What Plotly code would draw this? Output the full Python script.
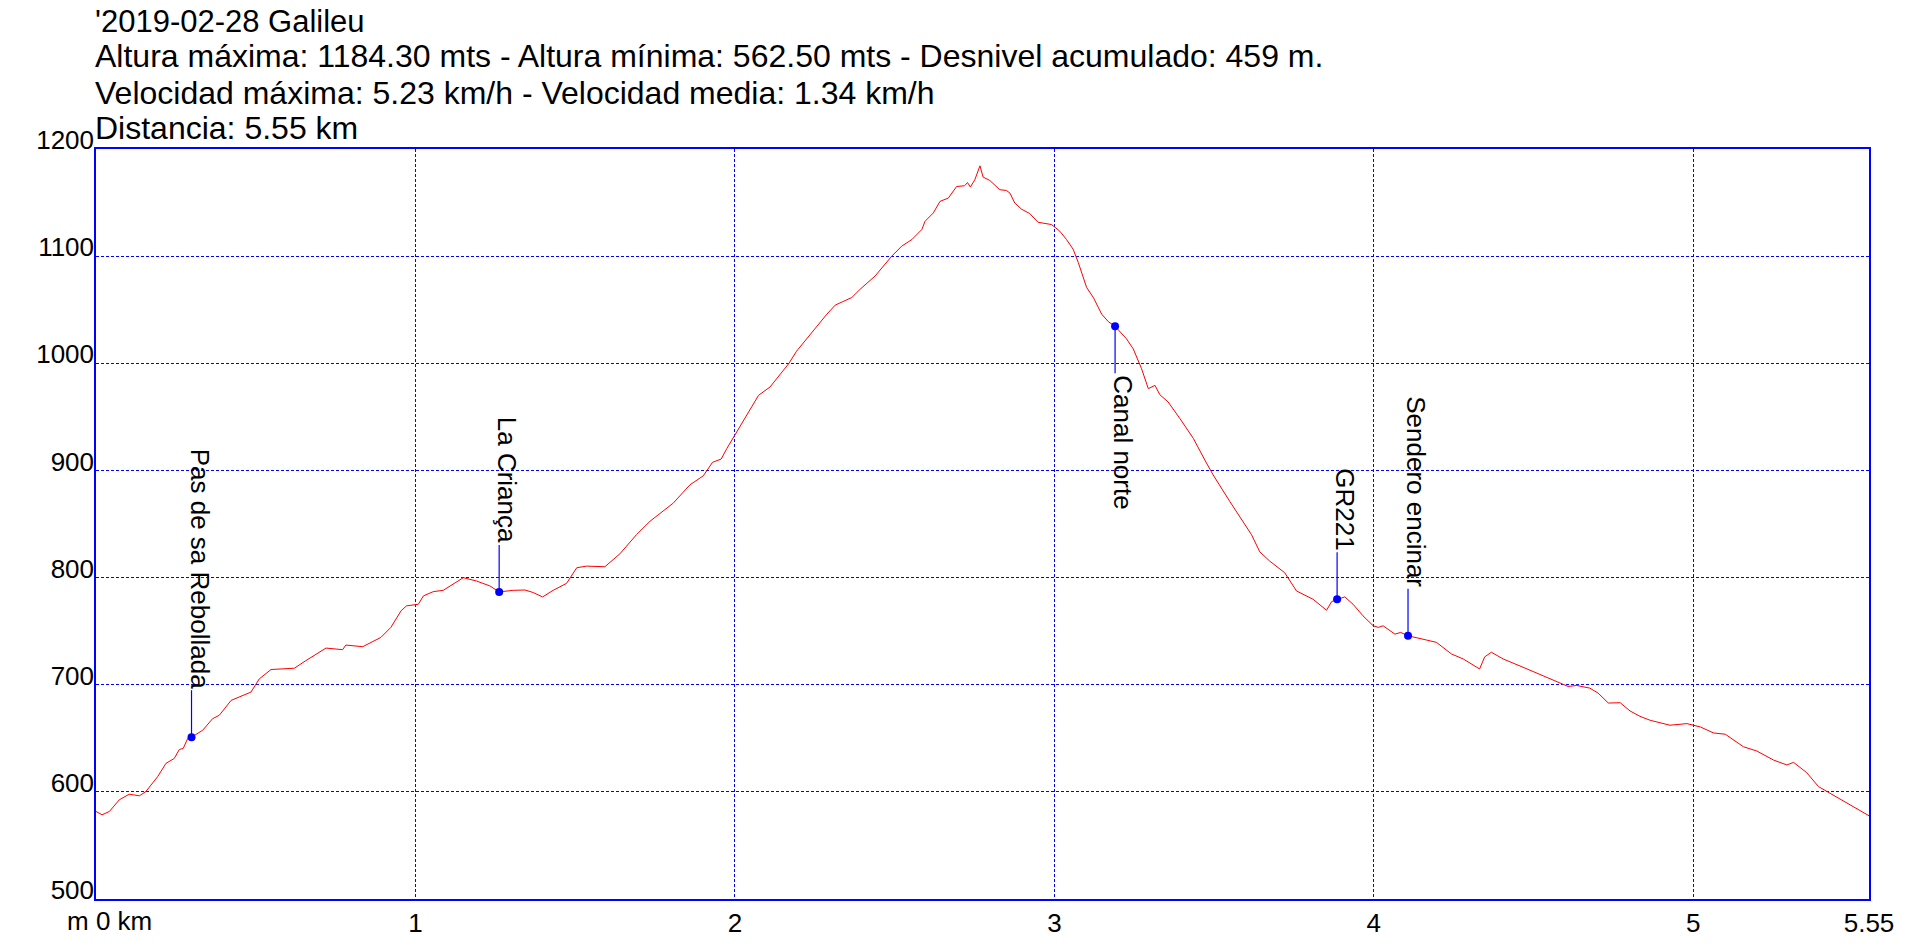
import plotly.graph_objects as go

# ---- data ----
title_lines = [
    "'2019-02-28 Galileu",
    "Altura máxima: 1184.30 mts - Altura mínima: 562.50 mts - Desnivel acumulado: 459 m.",
    "Velocidad máxima: 5.23 km/h - Velocidad media: 1.34 km/h",
    "Distancia: 5.55 km",
]

distance_km = [0, 0.019, 0.042, 0.073, 0.104, 0.136, 0.156, 0.193, 0.219, 0.245, 0.261, 0.273, 0.287, 0.299,
               0.334, 0.365, 0.386, 0.423, 0.485, 0.511, 0.548, 0.621, 0.657, 0.720, 0.772, 0.782, 0.835,
               0.892, 0.923, 0.955, 0.972, 1.009, 1.025, 1.056, 1.087, 1.118, 1.150, 1.191, 1.233, 1.262,
               1.306, 1.343, 1.369, 1.398, 1.431, 1.473, 1.505, 1.536, 1.593, 1.640, 1.692, 1.734, 1.807,
               1.859, 1.901, 1.930, 1.957, 1.975, 2.004, 2.032, 2.074, 2.110, 2.142, 2.168, 2.193, 2.241,
               2.288, 2.314, 2.366, 2.392, 2.439, 2.491, 2.522, 2.554, 2.585, 2.595, 2.621, 2.642, 2.668,
               2.694, 2.719, 2.728, 2.737, 2.751, 2.767, 2.777, 2.798, 2.829, 2.850, 2.861, 2.876, 2.897,
               2.923, 2.949, 2.991, 3.017, 3.038, 3.059, 3.075, 3.101, 3.122, 3.148, 3.169, 3.190, 3.226,
               3.247, 3.273, 3.294, 3.315, 3.330, 3.356, 3.393, 3.435, 3.471, 3.497, 3.549, 3.586, 3.617,
               3.643, 3.674, 3.721, 3.758, 3.810, 3.852, 3.868, 3.885, 3.909, 3.935, 3.966, 3.998, 4.014,
               4.029, 4.066, 4.084, 4.107, 4.165, 4.196, 4.243, 4.280, 4.331, 4.347, 4.368, 4.405, 4.467,
               4.541, 4.582, 4.608, 4.635, 4.676, 4.702, 4.734, 4.771, 4.802, 4.833, 4.865, 4.927, 4.980,
               5.022, 5.063, 5.100, 5.131, 5.157, 5.199, 5.251, 5.293, 5.314, 5.355, 5.392, 5.428, 5.481,
               5.550]

elevation_m = [581.7, 578.6, 581.7, 592.6, 597.8, 596.3, 600.3, 614.2, 626.6, 631.2, 639.6, 640.5, 649.8, 651.0,
               657.5, 668.3, 671.5, 685.4, 693.1, 705.4, 714.2, 715.4, 722.5, 734.2, 732.7, 737.0, 735.5,
               744.2, 753.5, 769.0, 773.6, 775.1, 782.9, 786.9, 788.1, 793.7, 799.9, 796.8, 792.2, 786.6,
               788.1, 788.4, 786.0, 781.9, 788.1, 794.6, 809.2, 810.7, 810.1, 822.2, 840.1, 852.5, 869.5,
               886.5, 895.0, 907.6, 910.6, 920.6, 935.0, 948.4, 970.1, 977.9, 990.2, 999.5, 1011.3, 1028.9,
               1045.9, 1054.3, 1061.4, 1069.1, 1081.5, 1100.0, 1109.3, 1115.5, 1124.8, 1132.5, 1140.3, 1151.1, 1154.2,
               1165.0, 1165.7, 1168.7, 1164.5, 1171.3, 1184.3, 1173.8, 1170.6, 1162.0, 1161.3, 1158.8, 1149.6, 1143.9,
               1139.7, 1131.6, 1129.5, 1123.3, 1115.5, 1106.3, 1093.9, 1070.7, 1061.4, 1045.9, 1038.8, 1034.5, 1022.7,
               1013.4, 994.9, 976.3, 979.4, 970.7, 963.9, 948.4, 929.9, 909.7, 895.8, 871.1, 854.0, 840.1,
               824.0, 815.4, 804.5, 787.5, 779.7, 769.5, 777.6, 779.7, 782.0, 775.1, 764.3, 755.0, 753.5,
               755.0, 747.2, 748.8, 745.7, 741.7, 739.5, 728.7, 724.0, 714.7, 726.0, 730.3, 724.0, 716.3,
               707.0, 701.5, 698.4, 699.3, 696.8, 692.2, 682.9, 683.2, 675.5, 670.5, 666.8, 662.2, 663.7,
               660.6, 655.0, 653.8, 647.6, 642.1, 638.1, 629.7, 625.1, 627.5, 617.9, 604.9, 598.7, 589.4,
               577.7]

waypoint_names = ["Pas de sa Rebollada", "La Criança", "Canal norte", "GR221", "Sendero encinar"]
waypoint_km = [0.299, 1.262, 3.190, 3.885, 4.107]
waypoint_elev = [651.0, 786.6, 1034.5, 779.7, 745.7]
waypoint_below = [False, False, True, False, False]

x_tickvals = [1, 2, 3, 4, 5, 5.55]
x_ticktext = ["1", "2", "3", "4", "5", "5.55"]
y_tickvals = [500, 600, 700, 800, 900, 1000, 1100, 1200]
y_ticktext = ["500", "600", "700", "800", "900", "1000", "1100", "1200"]
zero_label = "m 0 km"

# ---- figure ----
FONT = "Arial, 'Liberation Sans', sans-serif"
BLUE = "#0000FF"

fig = go.Figure()
fig.add_trace(go.Scatter(x=distance_km, y=elevation_m, mode="lines",
                         line=dict(color="#FF0000", width=1), hoverinfo="skip", showlegend=False))
fig.add_trace(go.Scatter(x=waypoint_km, y=waypoint_elev, mode="markers",
                         marker=dict(color=BLUE, size=8), hoverinfo="skip", showlegend=False))

LINE_PX = 47
annotations = []
shapes = []
for name, xk, ye, below in zip(waypoint_names, waypoint_km, waypoint_elev, waypoint_below):
    sign = -1 if below else 1
    shapes.append(dict(type="line", xref="x", yref="y", ysizemode="pixel", yanchor=ye,
                       x0=xk, x1=xk, y0=0, y1=sign * LINE_PX,
                       line=dict(color=BLUE, width=1.2)))
    annotations.append(dict(x=xk, y=ye, xref="x", yref="y", text=name, showarrow=False,
                            textangle=90, xanchor="left", yanchor="top" if below else "bottom",
                            xshift=-9, yshift=sign * LINE_PX,
                            font=dict(family=FONT, size=26, color="black")))

title_centers_px = [21, 56, 93, 128]
title_sizes = [31, 32, 32, 32]
PLOT_TOP = 149
for txt, cy, fs in zip(title_lines, title_centers_px, title_sizes):
    annotations.append(dict(x=0, y=1, xref="paper", yref="paper", text=txt, showarrow=False,
                            xanchor="left", yanchor="middle", xshift=-3, yshift=PLOT_TOP - cy,
                            font=dict(family=FONT, size=fs, color="black")))

annotations.append(dict(x=0, y=500, xref="x", yref="y", text=zero_label, showarrow=False,
                        xanchor="left", yanchor="top", xshift=-31, yshift=-5,
                        font=dict(family=FONT, size=26, color="black")))

fig.update_layout(
    width=1916, height=950,
    margin=dict(l=96, r=47, t=149, b=47, pad=0),
    paper_bgcolor="white", plot_bgcolor="white",
    font=dict(family=FONT, size=26, color="black"),
    showlegend=False,
    annotations=annotations,
    shapes=shapes,
)
fig.update_xaxes(range=[0, 5.55], tickvals=x_tickvals, ticktext=x_ticktext,
                 showgrid=True, gridcolor=BLUE, griddash="3px,2px", gridwidth=1,
                 showline=True, linecolor=BLUE, linewidth=1.5, mirror=True,
                 ticks="", zeroline=False, tickfont=dict(family=FONT, size=26, color="black"))
fig.update_yaxes(range=[500, 1200], tickvals=y_tickvals, ticktext=y_ticktext,
                 showgrid=True, gridcolor=BLUE, griddash="3px,2px", gridwidth=1,
                 showline=True, linecolor=BLUE, linewidth=1.5, mirror=True,
                 ticks="", zeroline=False, ticklabelshift=-9, ticklabelstandoff=-5,
                 tickfont=dict(family=FONT, size=26, color="black"))

fig.write_html("out.html", config={"displayModeBar": False},
               post_script="document.body.style.margin='0';")
